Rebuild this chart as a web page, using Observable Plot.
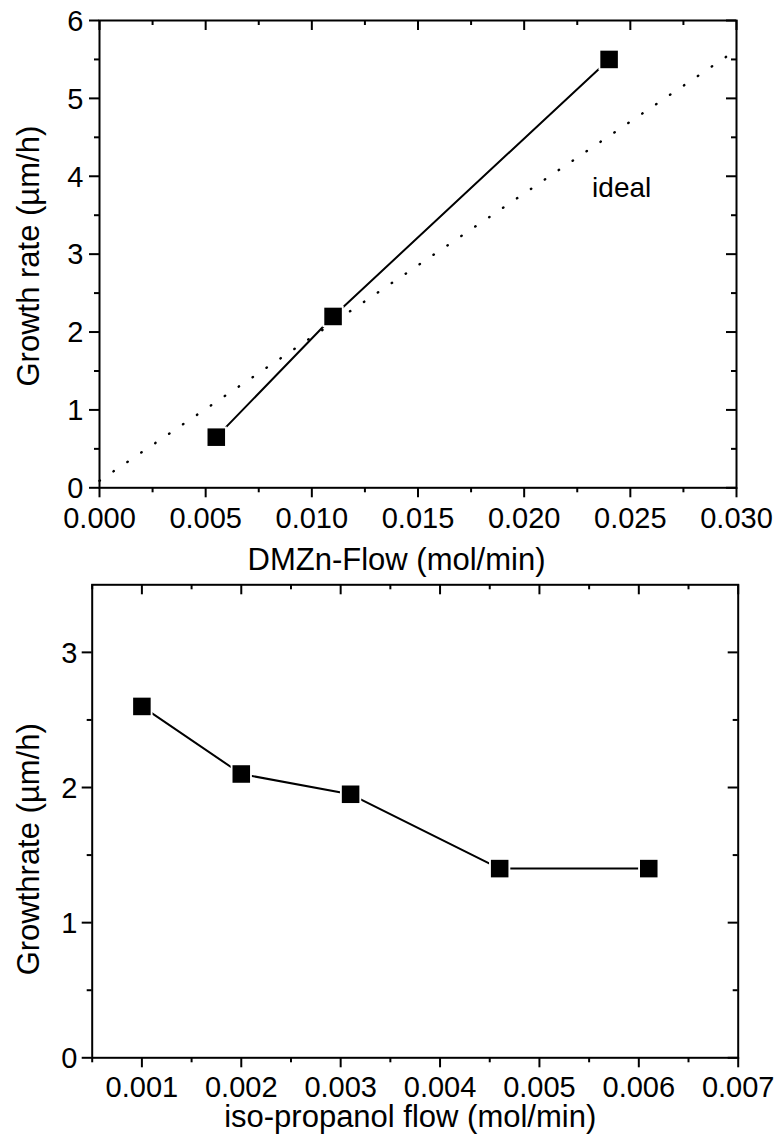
<!DOCTYPE html>
<html>
<head>
<meta charset="utf-8">
<script src="https://cdn.jsdelivr.net/npm/d3@7"></script>
<script src="https://cdn.jsdelivr.net/npm/@observablehq/plot@0.6"></script>
<style>
  html, body { margin: 0; padding: 0; background: #fff; overflow: hidden; }
  #chart svg { display: block; }
</style>
</head>
<body>
<div id="chart"></div>
<script>
// ---------- Panel 1: growth rate vs DMZn flow ----------
const dmznFlow = [0.0055, 0.011, 0.024];
const dmznRate = [0.65, 2.2, 5.5];
const idealFlow = [0.0, 0.0296];
const idealRate = [0.09, 5.55];
const idealText = ["ideal"];
const idealTextFlow = [0.0232];
const idealTextRate = [3.85];
const topXTicks = [0, 0.005, 0.010, 0.015, 0.020, 0.025, 0.030];
const topXMinor = [0.0025, 0.0075, 0.0125, 0.0175, 0.0225, 0.0275];
const topYTicks = [0, 1, 2, 3, 4, 5, 6];
const topYMinor = [0.5, 1.5, 2.5, 3.5, 4.5, 5.5];
const topXLabel = ["DMZn-Flow (mol/min)"];
const topYLabel = ["Growth rate (µm/h)"];

// ---------- Panel 2: growth rate vs iso-propanol flow ----------
const ipaFlow = [0.001, 0.002, 0.0031, 0.0046, 0.0061];
const ipaRate = [2.6, 2.1, 1.95, 1.4, 1.4];
const botXTicks = [0.001, 0.002, 0.003, 0.004, 0.005, 0.006, 0.007];
const botXMinor = [0.0005, 0.0015, 0.0025, 0.0035, 0.0045, 0.0055, 0.0065];
const botYTicks = [0, 1, 2, 3];
const botYMinor = [0.5, 1.5, 2.5];
const botXLabel = ["iso-propanol flow (mol/min)"];
const botYLabel = ["Growthrate (µm/h)"];

const FONT = "'Liberation Sans', Arial, Helvetica, sans-serif";
const W = 778;
const TICK_FS = 29, TITLE_FS = 31;

function frameTicks(xMajor, xMinor, yMajor, yMinor, innerW, innerH) {
  const big = 10, small = 5, sw = 2;
  const st = {stroke: "black", strokeWidth: sw};
  return [
    Plot.tickX(xMajor, {x: d => d, insetTop: innerH, insetBottom: -big, ...st}),
    Plot.tickX(xMinor, {x: d => d, insetTop: innerH, insetBottom: -small, ...st}),
    Plot.tickX(xMajor, {x: d => d, insetBottom: innerH - big, ...st}),
    Plot.tickX(xMinor, {x: d => d, insetBottom: innerH - small, ...st}),
    Plot.tickY(yMajor, {y: d => d, insetRight: innerW, insetLeft: -big, ...st}),
    Plot.tickY(yMinor, {y: d => d, insetRight: innerW, insetLeft: -small, ...st}),
    Plot.tickY(yMajor, {y: d => d, insetLeft: innerW - big, ...st}),
    Plot.tickY(yMinor, {y: d => d, insetLeft: innerW - small, ...st})
  ];
}

function tickLabels(xMajor, yMajor, xFmt, xDy, yDx) {
  return [
    Plot.text(xMajor, {x: d => d, text: d => xFmt(d), frameAnchor: "bottom", lineAnchor: "middle",
      textAnchor: "middle", dy: xDy, fontSize: TICK_FS, fill: "black"}),
    Plot.text(yMajor, {y: d => d, text: d => d3.format("d")(d), frameAnchor: "left", lineAnchor: "middle",
      textAnchor: "end", dx: yDx, dy: 1, fontSize: TICK_FS, fill: "black"})
  ];
}

function markers(data) {
  return [
    Plot.dot(data, {x: "x", y: "y", symbol: "square", r: 12, fill: "white", stroke: "none"}),
    Plot.dot(data, {x: "x", y: "y", symbol: "square", r: 9.9, fill: "black", stroke: "none"})
  ];
}

// ----- top panel -----
const t = {h: 580, ml: 99, mr: 42, mt: 20, mb: 92.7};
const tInnerW = W - t.ml - t.mr, tInnerH = t.h - t.mt - t.mb;
const topData = dmznFlow.map((x, i) => ({x, y: dmznRate[i]}));
const idealData = idealFlow.map((x, i) => ({x, y: idealRate[i]}));
const idealLbl = idealText.map((s, i) => ({s, x: idealTextFlow[i], y: idealTextRate[i]}));

const topPlot = Plot.plot({
  width: W, height: t.h,
  marginLeft: t.ml, marginRight: t.mr, marginTop: t.mt, marginBottom: t.mb,
  style: {fontFamily: FONT, fontSize: "28px", color: "black", background: "white", overflow: "visible"},
  x: {type: "linear", domain: [0, 0.03], axis: null},
  y: {type: "linear", domain: [0, 6], axis: null},
  marks: [
    Plot.line(idealData, {x: "x", y: "y", stroke: "black", strokeWidth: 2.4,
      strokeDasharray: "0.5,16.3", strokeLinecap: "round"}),
    Plot.line(topData, {x: "x", y: "y", stroke: "black", strokeWidth: 2}),
    ...markers(topData),
    Plot.text(idealLbl, {x: "x", y: "y", text: "s", textAnchor: "start", fontSize: 28, fill: "black"}),
    Plot.frame({stroke: "black", strokeWidth: 2}),
    ...frameTicks(topXTicks, topXMinor, topYTicks, topYMinor, tInnerW, tInnerH),
    ...tickLabels(topXTicks, topYTicks, d3.format(".3f"), 31, -16),
    Plot.text(topXLabel, {text: d => d, frameAnchor: "bottom", lineAnchor: "middle", textAnchor: "middle", dx: -21.5, dy: 72, fontSize: TITLE_FS, fill: "black"}),
    Plot.text(topYLabel, {text: d => d, frameAnchor: "left", rotate: -90, lineAnchor: "middle", textAnchor: "middle", dx: -70, dy: 2, fontSize: TITLE_FS, fill: "black"})
  ]
});

// ----- bottom panel -----
const b = {h: 557, ml: 91.7, mr: 40.3, mt: 4.3, mb: 79.7};
const bInnerW = W - b.ml - b.mr, bInnerH = b.h - b.mt - b.mb;
const botData = ipaFlow.map((x, i) => ({x, y: ipaRate[i]}));

const bottomPlot = Plot.plot({
  width: W, height: b.h,
  marginLeft: b.ml, marginRight: b.mr, marginTop: b.mt, marginBottom: b.mb,
  style: {fontFamily: FONT, fontSize: "28px", color: "black", background: "white", overflow: "visible"},
  x: {type: "linear", domain: [0.0005, 0.007], axis: null},
  y: {type: "linear", domain: [0, 3.5], axis: null},
  marks: [
    Plot.line(botData, {x: "x", y: "y", stroke: "black", strokeWidth: 2}),
    ...markers(botData),
    Plot.frame({stroke: "black", strokeWidth: 2}),
    ...frameTicks(botXTicks, botXMinor, botYTicks, botYMinor, bInnerW, bInnerH),
    ...tickLabels(botXTicks, botYTicks, d3.format(".3f"), 29.7, -14.7),
    Plot.text(botXLabel, {text: d => d, frameAnchor: "bottom", lineAnchor: "middle", textAnchor: "middle", dx: -5, dy: 59, fontSize: TITLE_FS, fill: "black"}),
    Plot.text(botYLabel, {text: d => d, frameAnchor: "left", rotate: -90, lineAnchor: "middle", textAnchor: "middle", dx: -62.7, dy: 28, fontSize: TITLE_FS, fill: "black"})
  ]
});

const chart = document.getElementById("chart");
chart.appendChild(topPlot);
chart.appendChild(bottomPlot);
</script>
</body>
</html>
